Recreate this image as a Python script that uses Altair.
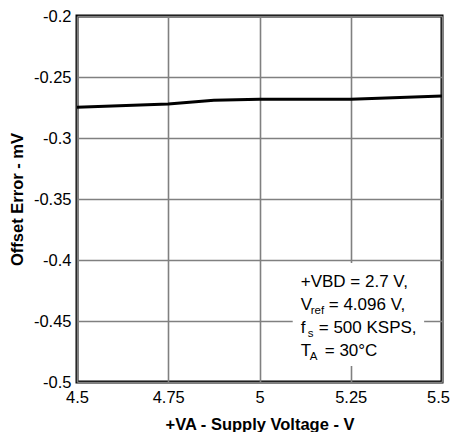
import altair as alt
import pandas as pd

# Data
supply_v = [4.5, 4.75, 4.875, 5.0, 5.25, 5.5]
offset_mv = [-0.2748, -0.2721, -0.2690, -0.2683, -0.2683, -0.2656]

x_ticks = [4.5, 4.75, 5.0, 5.25, 5.5]
y_ticks = [-0.5, -0.45, -0.4, -0.35, -0.3, -0.25, -0.2]

FONT = "Liberation Sans"

df = pd.DataFrame({"v": supply_v, "e": offset_mv})

xs = alt.Scale(domain=[4.5, 5.5], nice=False, zero=False)
ys = alt.Scale(domain=[-0.5, -0.2], nice=False, zero=False)

x_axis = alt.Axis(
    values=x_ticks, title="+VA - Supply Voltage - V", grid=True,
    gridColor="#808080", gridWidth=1.6, gridOpacity=1, domain=False, ticks=False,
    labelFont=FONT, labelFontSize=16.5, labelColor="black", labelPadding=7,
    labelExpr="'' + datum.value",
    labelOffset={"condition": {"test": "datum.value == 5.5", "value": -4}, "value": 0},
    titleFont=FONT, titleFontSize=16.5, titleFontWeight="bold", titleColor="black",
    titlePadding=11, labelFlush=False,
)
y_axis = alt.Axis(
    values=y_ticks, title="Offset Error - mV", grid=True,
    gridColor="#808080", gridWidth=1.6, gridOpacity=1, domain=False, ticks=False,
    labelFont=FONT, labelFontSize=16.5, labelColor="black", labelPadding=6,
    labelExpr="'' + datum.value",
    titleFont=FONT, titleFontSize=16.5, titleFontWeight="bold", titleColor="black",
    titlePadding=8, labelFlush=False,
)

line = alt.Chart(df).mark_line(color="black", strokeWidth=3, clip=True).encode(
    x=alt.X("v:Q", scale=xs, axis=x_axis),
    y=alt.Y("e:Q", scale=ys, axis=y_axis),
)

# annotation box (white background behind the legend text)
box_df = pd.DataFrame({"x1": [5.091], "x2": [5.451], "y1": [-0.4025], "y2": [-0.4869]})
box = alt.Chart(box_df).mark_rect(color="white").encode(
    x=alt.X("x1:Q", scale=xs), x2="x2:Q",
    y=alt.Y("y1:Q", scale=ys), y2="y2:Q",
)

ann_x = 5.113
line_y = [-0.4221, -0.4410, -0.4598, -0.4783]

def txt(s, y, dx=0, dy=0, size=17):
    d = pd.DataFrame({"x": [ann_x], "y": [y], "t": [s]})
    return alt.Chart(d).mark_text(
        align="left", baseline="alphabetic", font=FONT, fontSize=size,
        color="black", dx=dx, dy=dy,
    ).encode(x=alt.X("x:Q", scale=xs), y=alt.Y("y:Q", scale=ys), text="t:N")

texts = [
    txt("+VBD = 2.7 V,", line_y[0]),
    txt("V", line_y[1]),
    txt("ref", line_y[1], dx=10, dy=4, size=11.5),
    txt("= 4.096 V,", line_y[1], dx=28),
    txt("f", line_y[2]),
    txt("s", line_y[2], dx=7, dy=4, size=11.5),
    txt("= 500 KSPS,", line_y[2], dx=18),
    txt("T", line_y[3]),
    txt("A", line_y[3], dx=9, dy=4, size=11.5),
    txt("= 30°C", line_y[3], dx=24),
]

chart = alt.layer(box, line, *texts).properties(
    width=365, height=366,
    autosize=alt.AutoSizeParams(type="none"),
    padding={"left": 69, "top": 8, "right": 10, "bottom": 50},
    background="white",
).configure_view(stroke="black", strokeWidth=3)

chart.save("out.html", embed_options={"renderer": "svg", "actions": False})
